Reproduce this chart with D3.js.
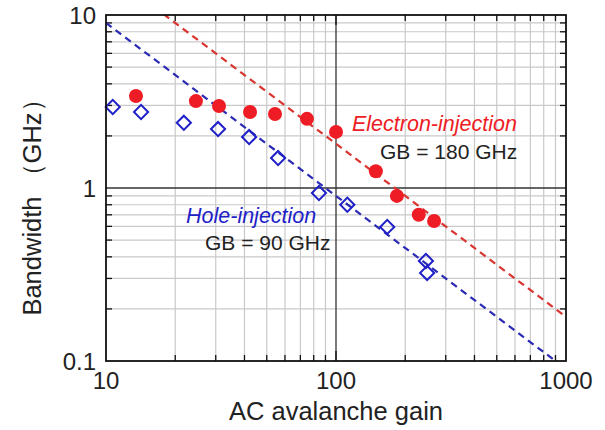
<!DOCTYPE html>
<meta charset="utf-8">
<style>
  body { margin: 0; background: #fff; }
  text { font-family: "Liberation Sans", Arial, sans-serif; }
</style>
<svg width="605" height="430"></svg>
<script src="https://d3js.org/d3.v7.min.js"></script>
<script>

// electron-injection (red filled circles)
var electronGain = [13.5, 24.6, 31, 42.3, 54.3, 74.8, 100, 149, 184, 229, 267];
var electronBW   = [3.40, 3.18, 2.98, 2.75, 2.68, 2.51, 2.11, 1.25, 0.90, 0.70, 0.645];

// hole-injection (blue open diamonds)
var holeGain = [10.7, 14.2, 21.8, 30.7, 41.9, 56, 84.3, 112, 167, 246, 249];
var holeBW   = [2.94, 2.75, 2.38, 2.19, 1.97, 1.49, 0.936, 0.80, 0.596, 0.379, 0.323];

// gain-bandwidth products of the dashed fits (GHz)
var fitNames = ["electron", "hole"];
var fitGB = [180, 90];

var xTicks = [10, 100, 1000];
var yTicks = [0.1, 1, 10];

var svg = d3.select("svg");

var pLeft = 106, pRight = 566, pTop = 15, pBottom = 361;

var x = d3.scaleLog().domain([10, 1000]).range([pLeft, pRight]);
var y = d3.scaleLog().domain([0.1, 10]).range([pBottom, pTop]);

var red = "#ee1c24";
var blue = "#1f1fc8";
var redLine = "#d9342f";
var blueLine = "#2a2ab4";

var gridColor = "#c9c9c9";

// minor values 2..9 for each decade
function minors(lo, hi) {
  var out = [];
  for (var d = lo; d < hi * 0.999; d *= 10)
    for (var k = 2; k <= 9; k++) out.push(d * k);
  return out;
}
var xMinor = minors(10, 1000);
var yMinor = minors(0.1, 10);

svg.append("defs").append("clipPath").attr("id", "plot")
  .append("rect")
  .attr("x", pLeft).attr("y", pTop)
  .attr("width", pRight - pLeft).attr("height", pBottom - pTop);

// minor grid
var grid = svg.append("g");
grid.selectAll(".gx").data(xMinor).enter().append("line")
  .attr("x1", d => x(d)).attr("x2", d => x(d))
  .attr("y1", pTop).attr("y2", pBottom)
  .attr("stroke", gridColor).attr("stroke-width", 1.2);
grid.selectAll(".gy").data(yMinor).enter().append("line")
  .attr("y1", d => y(d)).attr("y2", d => y(d))
  .attr("x1", pLeft).attr("x2", pRight)
  .attr("stroke", gridColor).attr("stroke-width", 1.2);

// major grid
grid.append("line")
  .attr("x1", x(100)).attr("x2", x(100)).attr("y1", pTop).attr("y2", pBottom)
  .attr("stroke", "#333").attr("stroke-width", 1.3);
grid.append("line")
  .attr("y1", y(1)).attr("y2", y(1)).attr("x1", pLeft).attr("x2", pRight)
  .attr("stroke", "#333").attr("stroke-width", 1.3);

// inward ticks on all four sides
var ticks = svg.append("g").attr("stroke", "#111").attr("stroke-width", 1.3);
var tl = 6, tL = 10;
xMinor.forEach(function(v) {
  ticks.append("line").attr("x1", x(v)).attr("x2", x(v)).attr("y1", pBottom).attr("y2", pBottom - tl);
  ticks.append("line").attr("x1", x(v)).attr("x2", x(v)).attr("y1", pTop).attr("y2", pTop + tl);
});
yMinor.forEach(function(v) {
  ticks.append("line").attr("y1", y(v)).attr("y2", y(v)).attr("x1", pLeft).attr("x2", pLeft + tl);
  ticks.append("line").attr("y1", y(v)).attr("y2", y(v)).attr("x1", pRight).attr("x2", pRight - tl);
});
ticks.append("line").attr("x1", x(100)).attr("x2", x(100)).attr("y1", pBottom).attr("y2", pBottom - tL);
ticks.append("line").attr("x1", x(100)).attr("x2", x(100)).attr("y1", pTop).attr("y2", pTop + tL);

// dashed fit lines  bw = GB / gain
var fitColor = [redLine, blueLine];
var fits = svg.append("g").attr("clip-path", "url(#plot)");
fitGB.forEach(function(gb, i) {
  fits.append("line")
    .attr("x1", x(10)).attr("y1", y(gb / 10))
    .attr("x2", x(1000)).attr("y2", y(gb / 1000))
    .attr("stroke", fitColor[i])
    .attr("stroke-width", 2.2)
    .attr("stroke-dasharray", "7,5");
});

// hole markers
var holes = d3.zip(holeGain, holeBW);
svg.append("g").selectAll("path").data(holes).enter().append("path")
  .attr("d", d3.symbol().type(d3.symbolSquare).size(100))
  .attr("transform", d => "translate(" + x(d[0]) + "," + y(d[1]) + ") rotate(45)")
  .attr("fill", "none")
  .attr("stroke", blue)
  .attr("stroke-width", 2);

// electron markers
var electrons = d3.zip(electronGain, electronBW);
svg.append("g").selectAll("circle").data(electrons).enter().append("circle")
  .attr("cx", d => x(d[0])).attr("cy", d => y(d[1]))
  .attr("r", 7)
  .attr("fill", red);

// frame
svg.append("rect")
  .attr("x", pLeft).attr("y", pTop)
  .attr("width", pRight - pLeft).attr("height", pBottom - pTop)
  .attr("fill", "none").attr("stroke", "#111").attr("stroke-width", 1.8);

// tick labels
svg.append("g").selectAll("text").data(xTicks).enter().append("text")
  .attr("x", d => x(d)).attr("y", 389)
  .attr("text-anchor", "middle")
  .style("font-size", "24px").attr("fill", "#222")
  .text(d => d);
svg.append("g").selectAll("text").data(yTicks).enter().append("text")
  .attr("x", 96).attr("y", d => y(d) + 9)
  .attr("text-anchor", "end")
  .style("font-size", "24px").attr("fill", "#222")
  .text(d => d);

// axis titles
svg.append("text")
  .attr("x", x(100)).attr("y", 420)
  .attr("text-anchor", "middle")
  .style("font-size", "25.5px").attr("fill", "#222")
  .text("AC avalanche gain");
svg.append("text")
  .attr("transform", "translate(41,201) rotate(-90)")
  .attr("text-anchor", "middle")
  .style("font-size", "25.5px").attr("fill", "#222")
  .text("Bandwidth （GHz）");

// annotations
svg.append("text").attr("x", 352).attr("y", 131)
  .style("font-size", "21.5px").style("font-style", "italic").attr("fill", red)
  .text("Electron-injection");
svg.append("text").attr("x", 380).attr("y", 159)
  .style("font-size", "21px").attr("fill", "#222")
  .text("GB = 180 GHz");
svg.append("text").attr("x", 186).attr("y", 223)
  .style("font-size", "21.5px").style("font-style", "italic").attr("fill", blue)
  .text("Hole-injection");
svg.append("text").attr("x", 205).attr("y", 250)
  .style("font-size", "21px").attr("fill", "#222")
  .text("GB = 90 GHz");

</script>
